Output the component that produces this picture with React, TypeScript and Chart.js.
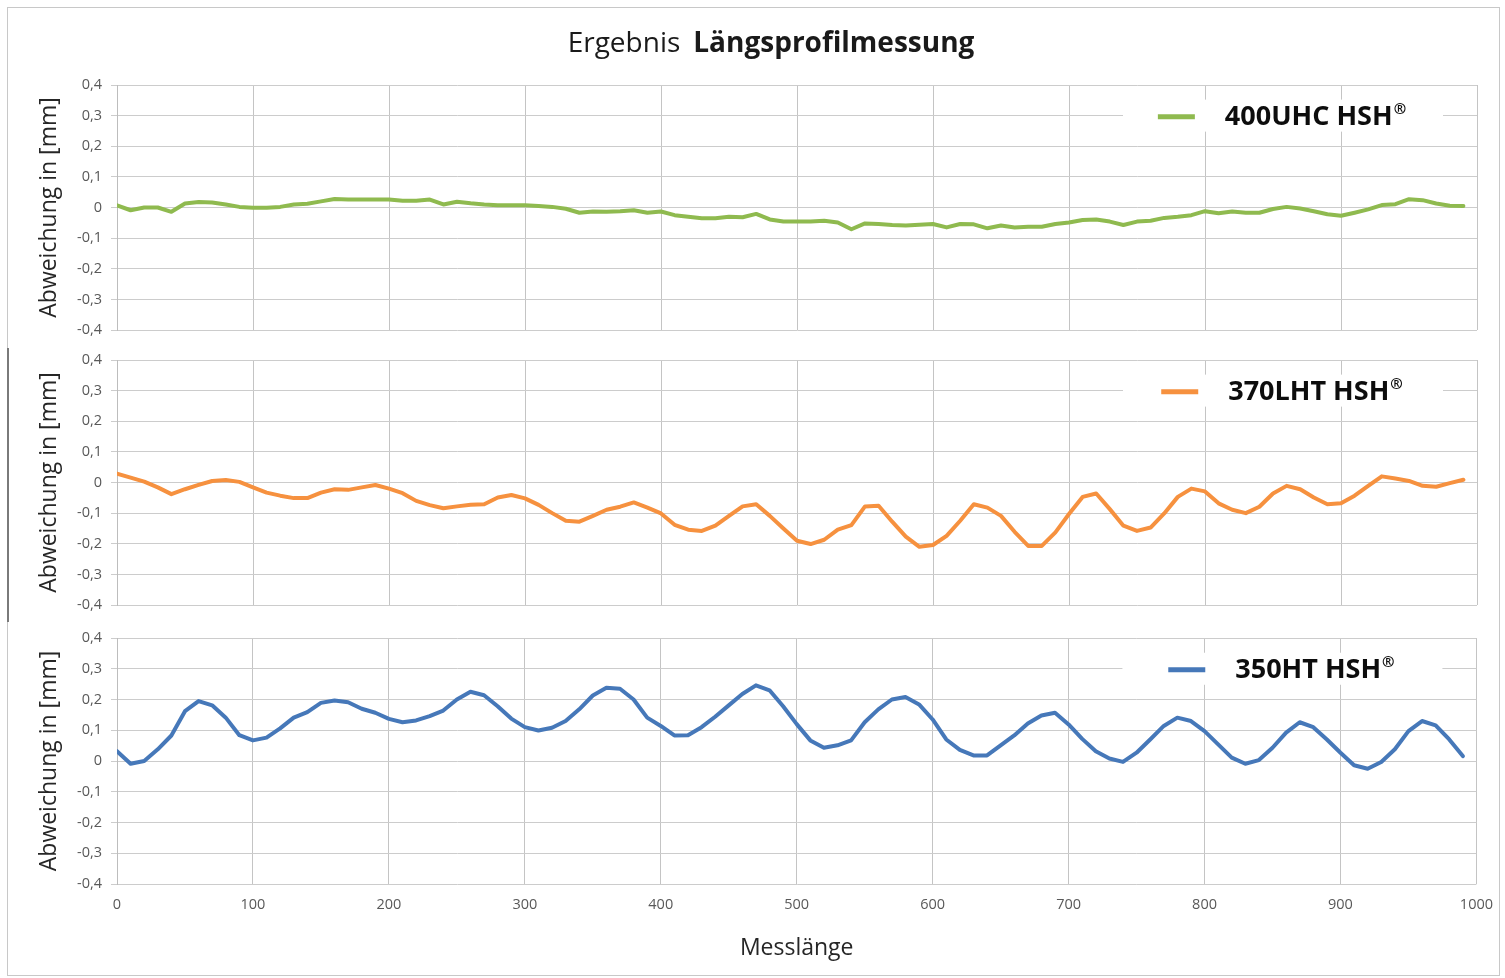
import React, { useEffect, useRef } from "react";
import { Chart, registerables } from "chart.js";

Chart.register(...registerables);

const FONT = "'Open Sans', sans-serif";

const positions = [
  0, 10, 20, 30, 40, 50, 60, 70, 80, 90,
  100, 110, 120, 130, 140, 150, 160, 170, 180, 190,
  200, 210, 220, 230, 240, 250, 260, 270, 280, 290,
  300, 310, 320, 330, 340, 350, 360, 370, 380, 390,
  400, 410, 420, 430, 440, 450, 460, 470, 480, 490,
  500, 510, 520, 530, 540, 550, 560, 570, 580, 590,
  600, 610, 620, 630, 640, 650, 660, 670, 680, 690,
  700, 710, 720, 730, 740, 750, 760, 770, 780, 790,
  800, 810, 820, 830, 840, 850, 860, 870, 880, 890,
  900, 910, 920, 930, 940, 950, 960, 970, 980, 990,
];

const series400UHC = [
  0.007, -0.009, 0.0, 0.0, -0.014, 0.013, 0.018, 0.016, 0.01, 0.002,
  -0.001, -0.001, 0.002, 0.01, 0.012, 0.02, 0.028, 0.026, 0.026, 0.026,
  0.026, 0.022, 0.022, 0.026, 0.01, 0.019, 0.014, 0.01, 0.007, 0.007,
  0.007, 0.005, 0.002, -0.004, -0.017, -0.013, -0.014, -0.012, -0.009, -0.017,
  -0.013, -0.025, -0.03, -0.035, -0.035, -0.03, -0.032, -0.021, -0.039, -0.046,
  -0.046, -0.046, -0.043, -0.049, -0.071, -0.052, -0.054, -0.057, -0.059, -0.056,
  -0.054, -0.065, -0.054, -0.055, -0.068, -0.059, -0.065, -0.063, -0.063, -0.054,
  -0.049, -0.041, -0.039, -0.046, -0.057, -0.046, -0.043, -0.034, -0.03, -0.025,
  -0.012, -0.019, -0.013, -0.017, -0.017, -0.005, 0.002, -0.003, -0.012, -0.022,
  -0.027, -0.017, -0.006, 0.008, 0.011, 0.027, 0.024, 0.013, 0.006, 0.005,
];

const series370LHT = [
  0.029, 0.016, 0.003, -0.016, -0.038, -0.022, -0.008, 0.005, 0.008, 0.002,
  -0.016, -0.033, -0.043, -0.051, -0.051, -0.033, -0.022, -0.024, -0.016, -0.008,
  -0.02, -0.035, -0.06, -0.074, -0.084, -0.078, -0.073, -0.071, -0.049, -0.041,
  -0.052, -0.073, -0.1, -0.125, -0.128, -0.109, -0.089, -0.079, -0.065, -0.082,
  -0.101, -0.138, -0.154, -0.158, -0.141, -0.109, -0.078, -0.071, -0.109, -0.15,
  -0.19, -0.201, -0.187, -0.154, -0.139, -0.078, -0.076, -0.128, -0.177, -0.21,
  -0.204, -0.174, -0.125, -0.071, -0.082, -0.109, -0.161, -0.207, -0.207, -0.163,
  -0.103, -0.047, -0.036, -0.087, -0.141, -0.158, -0.147, -0.101, -0.047, -0.02,
  -0.029, -0.068, -0.089, -0.1, -0.079, -0.036, -0.011, -0.022, -0.049, -0.071,
  -0.068, -0.043, -0.011, 0.02, 0.013, 0.005, -0.011, -0.014, -0.002, 0.009,
];

const series350HT = [
  0.032, -0.009, 0.0, 0.038, 0.083, 0.162, 0.195, 0.181, 0.141, 0.084,
  0.067, 0.076, 0.106, 0.141, 0.159, 0.189, 0.197, 0.191, 0.17, 0.157,
  0.137, 0.126, 0.132, 0.146, 0.164, 0.2, 0.225, 0.214, 0.178, 0.138,
  0.11, 0.099, 0.108, 0.13, 0.168, 0.213, 0.238, 0.235, 0.2, 0.141,
  0.114, 0.083, 0.084, 0.11, 0.144, 0.181, 0.218, 0.246, 0.23, 0.178,
  0.12, 0.067, 0.043, 0.051, 0.067, 0.126, 0.168, 0.2, 0.208, 0.184,
  0.135, 0.07, 0.036, 0.018, 0.018, 0.051, 0.083, 0.122, 0.148, 0.157,
  0.119, 0.072, 0.032, 0.008, -0.003, 0.027, 0.07, 0.114, 0.141, 0.13,
  0.097, 0.054, 0.011, -0.009, 0.003, 0.043, 0.092, 0.126, 0.11, 0.07,
  0.027, -0.014, -0.025, -0.003, 0.038, 0.097, 0.13, 0.116, 0.07, 0.016,
];

const xTicks = [0, 100, 200, 300, 400, 500, 600, 700, 800, 900, 1000];
const yTicks = [-0.4, -0.3, -0.2, -0.1, 0, 0.1, 0.2, 0.3, 0.4];

const labelGreen = "400UHC HSH";
const labelOrange = "370LHT HSH";
const labelBlue = "350HT HSH";
const titleNormal = "Ergebnis";
const titleBold = "Längsprofilmessung";
const xTitle = "Messlänge";
const yTitle = "Abweichung in [mm]";

const colGreen = "#8fba4f";
const colOrange = "#f6913f";
const colBlue = "#4678b9";

function fmtY(v: number) {
  const n = Math.round(v * 10) / 10;
  if (n === 0) return "0";
  return n.toFixed(1).replace(".", ",");
}

function legendPlugin(label: string, color: string) {
  return {
    id: "panelLegend",
    afterDraw(chart: any) {
      const ctx = chart.ctx;
      const ca = chart.chartArea;
      const y = chart.scales.y.getPixelForValue(0.3);
      ctx.save();
      ctx.fillStyle = "#ffffff";
      ctx.fillRect(ca.right - 354, y - 16, 320, 32);
      const mainFont = `bold 27px ${FONT}`;
      const regFont = `bold 15px ${FONT}`;
      ctx.font = mainFont;
      const wMain = ctx.measureText(label).width;
      ctx.font = regFont;
      const wReg = ctx.measureText("®").width;
      const total = 37 + 32 + wMain + 1 + wReg;
      const cx = ca.right - 194;
      let x = cx - total / 2;
      ctx.strokeStyle = color;
      ctx.lineWidth = 5;
      ctx.beginPath();
      ctx.moveTo(x, y + 1);
      ctx.lineTo(x + 37, y + 1);
      ctx.stroke();
      x += 37 + 30;
      ctx.fillStyle = "#0d0d0d";
      ctx.textBaseline = "alphabetic";
      ctx.textAlign = "left";
      ctx.font = mainFont;
      ctx.fillText(label, x, y + 9);
      ctx.font = regFont;
      ctx.fillText("®", x + wMain + 1, y - 2);
      ctx.restore();
    },
  };
}

const titlePlugin = {
  id: "mainTitle",
  afterDraw(chart: any) {
    const ctx = chart.ctx;
    ctx.save();
    const f1 = `28px ${FONT}`;
    const f2 = `bold 28px ${FONT}`;
    ctx.font = f1;
    const w1 = ctx.measureText(titleNormal).width;
    ctx.font = f2;
    const w2 = ctx.measureText(titleBold).width;
    const gap = 13;
    const total = w1 + gap + w2;
    const x = 771 - total / 2;
    const y = 52;
    ctx.fillStyle = "#1a1a1a";
    ctx.textBaseline = "alphabetic";
    ctx.textAlign = "left";
    ctx.font = f1;
    ctx.fillText(titleNormal, x, y);
    ctx.font = f2;
    ctx.fillText(titleBold, x + w1 + gap, y);
    ctx.restore();
  },
};

function makeConfig(
  values: number[],
  color: string,
  label: string,
  padTop: number,
  padBottom: number,
  showX: boolean,
  withTitle: boolean
): any {
  const plugins: any[] = [legendPlugin(label, color)];
  if (withTitle) plugins.push(titlePlugin);
  return {
    type: "line",
    data: {
      datasets: [
        {
          label,
          data: positions.map((x, i) => ({ x, y: values[i] })),
          borderColor: color,
          backgroundColor: color,
          borderWidth: 4,
          pointRadius: 0,
          tension: 0,
          borderJoinStyle: "round",
          borderCapStyle: "round",
          fill: false,
        },
      ],
    },
    options: {
      animation: false,
      responsive: false,
      devicePixelRatio: 1,
      layout: { padding: { left: 0, right: 28, top: padTop, bottom: padBottom } },
      plugins: {
        legend: { display: false },
        title: { display: false },
        tooltip: { enabled: false },
      },
      scales: {
        x: {
          type: "linear",
          min: 0,
          max: 1000,
          afterBuildTicks: (s: any) => {
            s.ticks = xTicks.map((v) => ({ value: v }));
          },
          ticks: {
            display: showX,
            callback: (v: any) => String(v),
            font: { family: FONT, size: 14.5 },
            color: "#595959",
            padding: 12,
            maxRotation: 0,
            autoSkip: false,
          },
          grid: { color: "#c4c4c4", drawTicks: false, lineWidth: 1 },
          border: { display: false },
          title: {
            display: showX,
            text: xTitle,
            font: { family: FONT, size: 23 },
            color: "#262626",
            padding: { top: 20, bottom: 4 },
          },
          afterFit: (s: any) => {
            s.height = showX ? 82 : 0;
          },
        },
        y: {
          min: -0.4,
          max: 0.4,
          afterBuildTicks: (s: any) => {
            s.ticks = yTicks.map((v) => ({ value: v }));
          },
          ticks: {
            callback: (v: any) => fmtY(Number(v)),
            font: { family: FONT, size: 14.5 },
            color: "#595959",
            padding: 9,
          },
          grid: { color: "#cccccc", tickLength: 6, lineWidth: 1 },
          border: { display: true, color: "#bdbdbd" },
          title: {
            display: true,
            text: yTitle,
            font: { family: FONT, size: 23 },
            color: "#262626",
            padding: { top: 36, bottom: 0 },
          },
          afterFit: (s: any) => {
            s.width = 117;
          },
        },
      },
    },
    plugins,
  };
}

export default function App() {
  const r1 = useRef<HTMLCanvasElement | null>(null);
  const r2 = useRef<HTMLCanvasElement | null>(null);
  const r3 = useRef<HTMLCanvasElement | null>(null);

  useEffect(() => {
    const c1 = new Chart(r1.current as HTMLCanvasElement, makeConfig(series400UHC, colGreen, labelGreen, 85, 25, false, true));
    const c2 = new Chart(r2.current as HTMLCanvasElement, makeConfig(series370LHT, colOrange, labelOrange, 25, 25, false, false));
    const c3 = new Chart(r3.current as HTMLCanvasElement, makeConfig(series350HT, colBlue, labelBlue, 28, 12, true, false));
    return () => {
      c1.destroy();
      c2.destroy();
      c3.destroy();
    };
  }, []);

  return (
    <div style={{ position: "absolute", left: 0, top: 0, width: 1505, height: 978, background: "#ffffff", overflow: "hidden" }}>
      <div style={{ position: "absolute", left: 7, top: 7, width: 1493, height: 969, border: "1px solid #c8c8c8", boxSizing: "border-box" }} />
      <div style={{ position: "absolute", left: 7, top: 348, width: 2, height: 274, background: "#7a7a7a" }} />
      <canvas ref={r1} width={1505} height={355} style={{ position: "absolute", left: 0, top: 0 }} />
      <canvas ref={r2} width={1505} height={295} style={{ position: "absolute", left: 0, top: 335 }} />
      <canvas ref={r3} width={1505} height={368} style={{ position: "absolute", left: 0, top: 610 }} />
    </div>
  );
}
